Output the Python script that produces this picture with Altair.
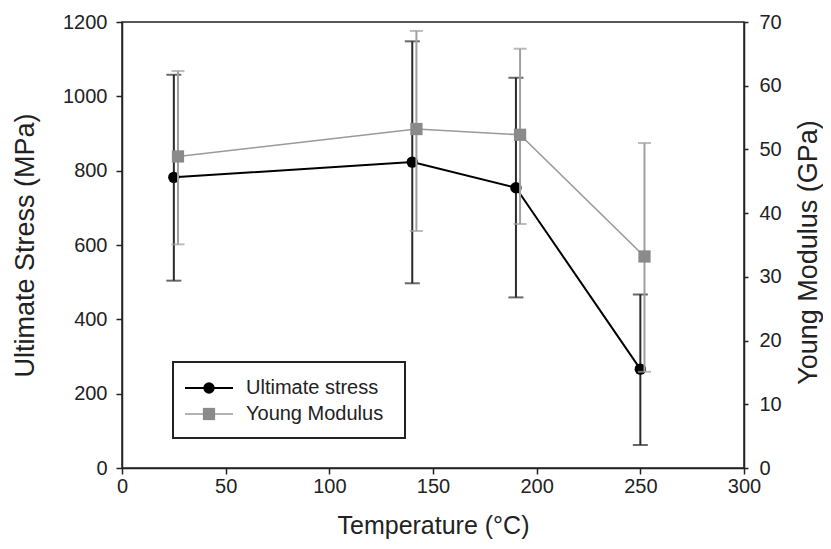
import altair as alt
import pandas as pd

series_names = ["Ultimate stress", "Young Modulus"]

temp_stress = [25, 140, 190, 250]
stress = [782, 823, 754, 266]
stress_hi = [1058, 1148, 1050, 467]
stress_lo = [504, 497, 459, 62]

temp_ym = [27, 142, 192, 252]
ym = [48.9, 53.2, 52.3, 33.2]
ym_hi = [62.3, 68.6, 65.8, 51.0]
ym_lo = [35.1, 37.2, 38.3, 15.1]

x_ticks = [0, 50, 100, 150, 200, 250, 300]
y_left_ticks = [0, 200, 400, 600, 800, 1000, 1200]
y_right_ticks = [0, 10, 20, 30, 40, 50, 60, 70]

df_s = pd.DataFrame({"T": temp_stress, "v": stress, "hi": stress_hi, "lo": stress_lo})
df_y = pd.DataFrame({"T": temp_ym, "v": ym, "hi": ym_hi, "lo": ym_lo})

FONT = "Liberation Sans"
STRESS_C = "#000000"
STRESS_ERR = "#2a2a2a"
YM_C = "#8a8a8a"
YM_LINE = "#9a9a9a"
YM_ERR = "#a0a0a0"

xscale = alt.Scale(domain=[0, 300], nice=False, zero=False)
x_enc = alt.X("T:Q", scale=xscale,
              axis=alt.Axis(values=x_ticks, title="Temperature (°C)", grid=False, format="d",
                            labelFlush=False, titlePadding=17))

# Stress layer (left axis)
ys = alt.Scale(domain=[0, 1200], nice=False)
ax_s = alt.Axis(values=y_left_ticks, title="Ultimate Stress (MPa)", format="d",
                orient="left", grid=False, labelFlush=False, labelPadding=9,
                titleAngle=270, titleX=-97, titleY=223, titleAlign="center",
                titleBaseline="middle", titleFontSize=27)
base_s = alt.Chart(df_s)
s_rule = base_s.mark_rule(color=STRESS_ERR, strokeWidth=2).encode(
    x=x_enc, y=alt.Y("lo:Q", scale=ys, axis=ax_s), y2="hi:Q")
s_cap_hi = base_s.mark_tick(color=STRESS_ERR, orient="horizontal", size=15, thickness=2).encode(
    x=x_enc, y=alt.Y("hi:Q", scale=ys, axis=ax_s))
s_cap_lo = base_s.mark_tick(color=STRESS_ERR, orient="horizontal", size=15, thickness=2).encode(
    x=x_enc, y=alt.Y("lo:Q", scale=ys, axis=ax_s))
s_line = base_s.mark_line(color=STRESS_C, strokeWidth=2).encode(
    x=x_enc, y=alt.Y("v:Q", scale=ys, axis=ax_s))
s_pt = base_s.mark_point(color=STRESS_C, filled=True, shape="circle", size=130, opacity=1).encode(
    x=x_enc, y=alt.Y("v:Q", scale=ys, axis=ax_s))
stress_layer = alt.layer(s_rule, s_cap_hi, s_cap_lo, s_line, s_pt)

# Young modulus layer (right axis)
yy = alt.Scale(domain=[0, 70], nice=False)
ax_y = alt.Axis(values=y_right_ticks, title="Young Modulus (GPa)", format="d",
                orient="right", grid=False, labelFlush=False, labelPadding=11, tickSize=4,
                titleAngle=270, titleX=64, titleY=230, titleAlign="center",
                titleBaseline="middle", titleFontSize=27)
base_y = alt.Chart(df_y)
y_rule = base_y.mark_rule(color=YM_ERR, strokeWidth=2).encode(
    x=x_enc, y=alt.Y("lo:Q", scale=yy, axis=ax_y), y2="hi:Q")
y_cap_hi = base_y.mark_tick(color=YM_ERR, orient="horizontal", size=13, thickness=2).encode(
    x=x_enc, y=alt.Y("hi:Q", scale=yy, axis=ax_y))
y_cap_lo = base_y.mark_tick(color=YM_ERR, orient="horizontal", size=13, thickness=2).encode(
    x=x_enc, y=alt.Y("lo:Q", scale=yy, axis=ax_y))
y_line = base_y.mark_line(color=YM_LINE, strokeWidth=1.6).encode(
    x=x_enc, y=alt.Y("v:Q", scale=yy, axis=ax_y))
y_pt = base_y.mark_point(color=YM_C, filled=True, shape="square", size=150, opacity=1).encode(
    x=x_enc, y=alt.Y("v:Q", scale=yy, axis=ax_y))
ym_layer = alt.layer(y_rule, y_cap_hi, y_cap_lo, y_line, y_pt)

# Legend (drawn manually)
one = pd.DataFrame({"a": [0]})
lg = alt.Chart(one)
leg_box = lg.mark_rect(fill="white", stroke="#222", strokeWidth=2).encode(
    x=alt.value(51), x2=alt.value(283), y=alt.value(340), y2=alt.value(416))
leg_l1 = lg.mark_rule(color=STRESS_C, strokeWidth=2).encode(
    x=alt.value(63), x2=alt.value(111), y=alt.value(366))
leg_p1 = lg.mark_point(color=STRESS_C, filled=True, shape="circle", size=130, opacity=1).encode(
    x=alt.value(87), y=alt.value(366))
leg_t1 = lg.mark_text(align="left", baseline="middle", font=FONT, fontSize=20, color="#222").encode(
    x=alt.value(124), y=alt.value(366), text=alt.value(series_names[0]))
leg_l2 = lg.mark_rule(color=YM_LINE, strokeWidth=1.6).encode(
    x=alt.value(63), x2=alt.value(111), y=alt.value(392))
leg_p2 = lg.mark_point(color=YM_C, filled=True, shape="square", size=150, opacity=1).encode(
    x=alt.value(87), y=alt.value(392))
leg_t2 = lg.mark_text(align="left", baseline="middle", font=FONT, fontSize=20, color="#222").encode(
    x=alt.value(124), y=alt.value(392), text=alt.value(series_names[1]))
legend = alt.layer(leg_box, leg_l1, leg_p1, leg_t1, leg_l2, leg_p2, leg_t2)

chart = alt.layer(stress_layer, ym_layer, legend).resolve_scale(y="independent").properties(
    width=622, height=446,
    autosize=alt.AutoSizeParams(type="none"),
    padding={"left": 114, "top": 14, "right": 79, "bottom": 73},
).configure_view(
    stroke="#222", strokeWidth=1.5
).configure_axis(
    labelFont=FONT, titleFont=FONT, labelFontSize=20, titleFontSize=25,
    labelColor="#222", titleColor="#222", titleFontWeight="normal",
    domainColor="#222", domainWidth=1.5, tickColor="#222", tickWidth=1.5, tickSize=6,
)

chart.save("out.html", embed_options={"renderer": "svg", "actions": False})
